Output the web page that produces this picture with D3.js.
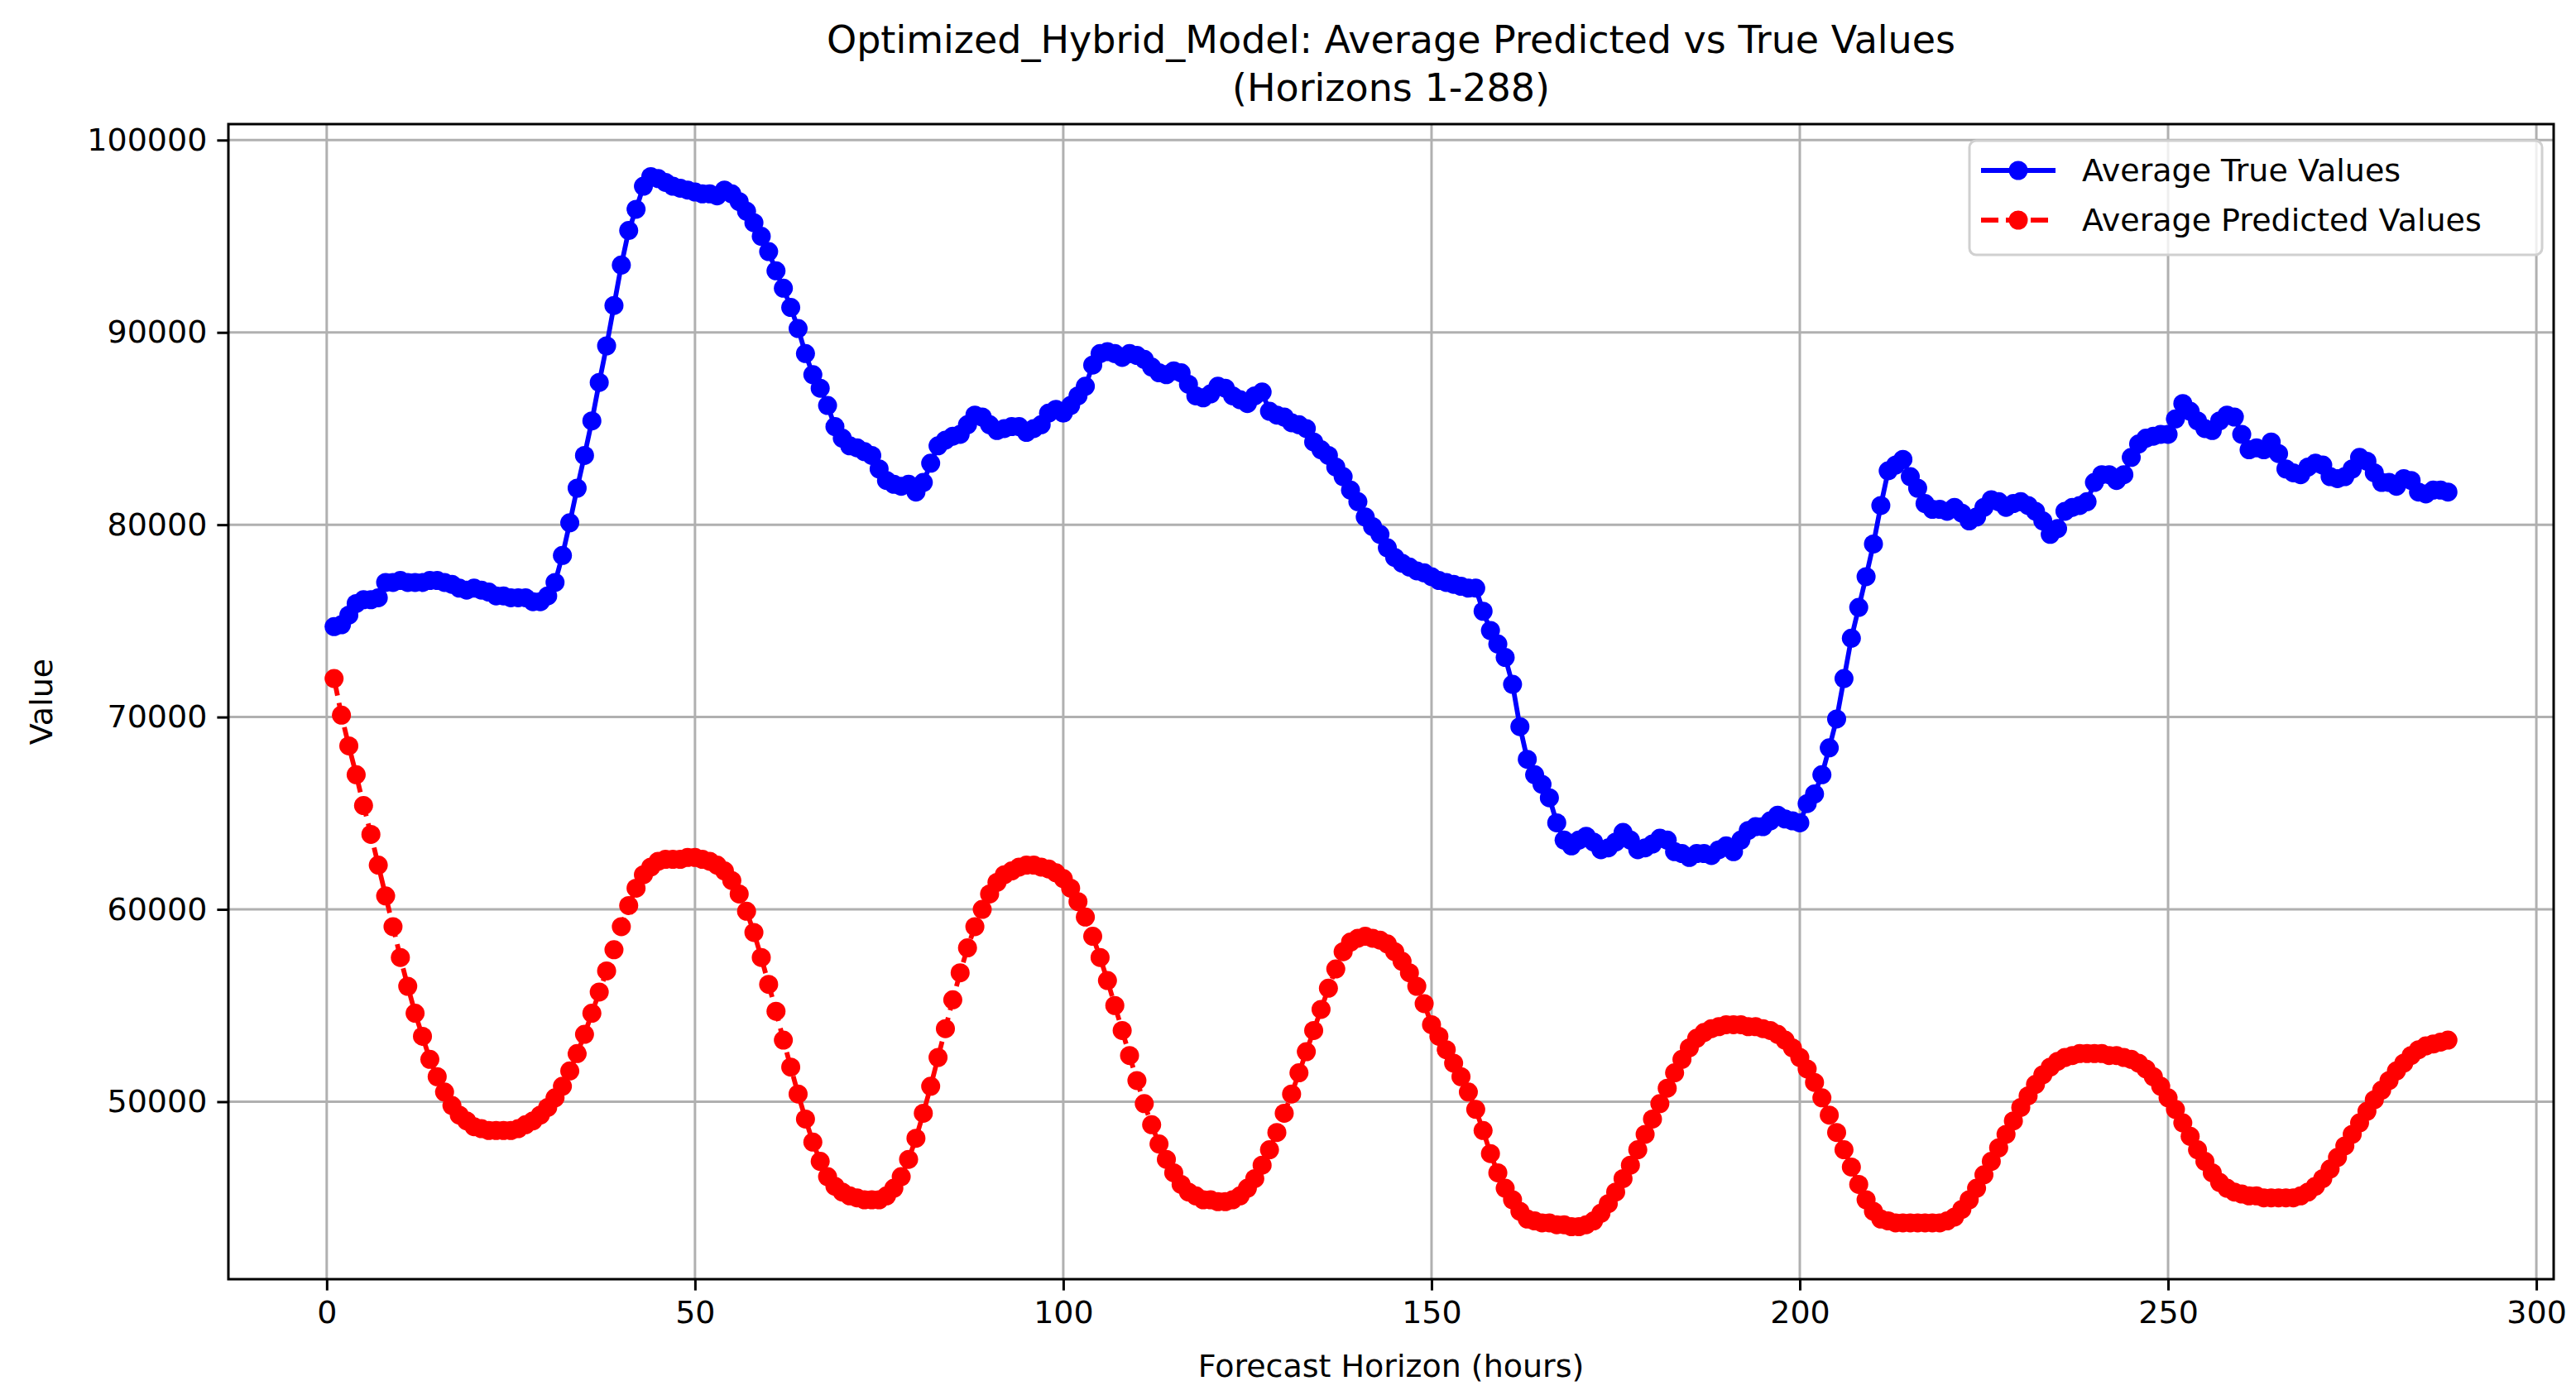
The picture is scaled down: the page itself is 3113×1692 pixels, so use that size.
<!DOCTYPE html>
<html>
<head>
<meta charset="utf-8">
<script src="https://cdnjs.cloudflare.com/ajax/libs/d3/7.8.5/d3.min.js"></script>
<style>
  html, body { margin: 0; padding: 0; background: #fff; }
  text { font-family: "DejaVu Sans", sans-serif; fill: #000; }
</style>
</head>
<body>
<svg id="chart" width="3113" height="1692"></svg>
<script>
// average true values, horizons 1..288
var trueValues = [
  74700,74800,75300,75900,76100,76100,76200,77000,77000,77100,77000,77000,
  77000,77100,77100,77000,76900,76700,76600,76700,76600,76500,76300,76300,
  76200,76200,76200,76000,76000,76300,77000,78400,80100,81900,83600,85400,
  87400,89300,91400,93500,95300,96400,97600,98100,98000,97800,97600,97500,
  97400,97300,97200,97200,97100,97400,97200,96800,96300,95700,95000,94200,
  93200,92300,91300,90200,88900,87800,87100,86200,85100,84500,84100,84000,
  83800,83600,82900,82300,82100,82000,82100,81700,82200,83200,84100,84400,
  84600,84700,85200,85700,85600,85200,84900,85000,85100,85100,84800,85000,
  85200,85800,86000,85800,86200,86700,87200,88300,88900,89000,88900,88700,
  88900,88800,88600,88200,87900,87800,88000,87900,87300,86700,86600,86800,
  87200,87100,86700,86500,86300,86700,86900,85900,85700,85600,85300,85200,
  85000,84300,83900,83600,83000,82500,81800,81200,80400,79900,79500,78800,
  78300,78000,77800,77600,77500,77300,77100,77000,76900,76800,76700,76700,
  75500,74500,73800,73100,71700,69500,67800,67000,66500,65800,64500,63600,
  63300,63600,63800,63500,63100,63200,63500,64000,63600,63100,63200,63400,
  63700,63600,63000,62900,62700,62900,62900,62800,63100,63300,63000,63600,
  64100,64300,64300,64600,64900,64700,64600,64500,65500,66000,67000,68400,
  69900,72000,74100,75700,77300,79000,81000,82800,83100,83400,82500,81900,
  81100,80800,80800,80700,80900,80600,80200,80400,80900,81300,81200,80900,
  81100,81200,81000,80700,80200,79500,79800,80700,80900,81000,81200,82200,
  82600,82600,82300,82600,83500,84200,84500,84600,84700,84700,85500,86300,
  85900,85400,85000,84900,85400,85700,85600,84700,83900,84000,83900,84300,
  83700,82900,82700,82600,83000,83200,83100,82500,82400,82500,82900,83500,
  83300,82700,82200,82200,82000,82400,82300,81700,81600,81800,81800,81700
];
// average predicted values, horizons 1..288
var predValues = [
  72000,70100,68500,67000,65400,63900,62300,60700,59100,57500,
  56000,54600,53400,52200,51300,50500,49800,49300,49000,48700,
  48600,48500,48500,48500,48500,48600,48800,49000,49300,49700,
  50200,50800,51600,52500,53500,54600,55700,56800,57900,59100,
  60200,61100,61800,62200,62500,62600,62600,62600,62700,62700,
  62600,62500,62300,62000,61500,60800,59900,58800,57500,56100,
  54700,53200,51800,50400,49100,47900,46900,46100,45600,45300,
  45100,45000,44900,44900,44900,45100,45500,46100,47000,48100,
  49400,50800,52300,53800,55300,56700,58000,59100,60000,60800,
  61400,61800,62000,62200,62300,62300,62200,62100,61900,61600,
  61100,60400,59600,58600,57500,56300,55000,53700,52400,51100,
  49900,48800,47800,47000,46300,45700,45300,45100,44900,44900,
  44800,44800,44900,45100,45500,46000,46700,47500,48400,49400,
  50400,51500,52600,53700,54800,55900,56900,57800,58300,58500,
  58600,58500,58400,58200,57800,57300,56700,56000,55100,54000,
  53400,52700,52000,51300,50500,49600,48500,47300,46300,45500,
  44900,44300,43900,43800,43700,43700,43600,43600,43500,43500,
  43600,43800,44200,44700,45300,46000,46700,47500,48300,49100,
  49900,50700,51500,52200,52800,53300,53600,53800,53900,54000,
  54000,54000,53900,53900,53800,53700,53500,53200,52800,52300,
  51700,51000,50200,49300,48400,47500,46600,45700,44900,44300,
  43900,43800,43700,43700,43700,43700,43700,43700,43700,43800,
  44000,44400,44900,45500,46200,46900,47600,48300,49000,49700,
  50300,50900,51400,51800,52100,52300,52400,52500,52500,52500,
  52500,52400,52400,52300,52200,52000,51700,51300,50800,50200,
  49600,48900,48200,47500,46900,46300,45800,45500,45300,45200,
  45100,45100,45000,45000,45000,45000,45000,45100,45300,45600,
  46000,46500,47100,47700,48300,48900,49500,50100,50600,51100,
  51600,52000,52400,52700,52900,53000,53100,53200
];
var horizons = trueValues.map(function(d, i) { return i + 1; });
var xTicks = [0, 50, 100, 150, 200, 250, 300];
var yTicks = [50000, 60000, 70000, 80000, 90000, 100000];
var seriesNames = ["Average True Values", "Average Predicted Values"];

var svg = d3.select("#chart");
var pL = 276, pR = 3086, pT = 150, pB = 1546;

// matplotlib-like 5% margins
var xr = d3.extent(horizons), xp = (xr[1] - xr[0]) * 0.05;
var allY = trueValues.concat(predValues);
var yr = d3.extent(allY), yp = (yr[1] - yr[0]) * 0.05;

var x = d3.scaleLinear().domain([xr[0] - xp, xr[1] + xp]).range([pL, pR]);
var y = d3.scaleLinear().domain([yr[0] - yp, yr[1] + yp]).range([pB, pT]);

// grid
var grid = svg.append("g");
grid.selectAll(".gx").data(xTicks).enter().append("line")
  .attr("x1", d => x(d)).attr("x2", d => x(d))
  .attr("y1", pT).attr("y2", pB)
  .attr("stroke", "#b0b0b0").attr("stroke-width", 3);
grid.selectAll(".gy").data(yTicks).enter().append("line")
  .attr("x1", pL).attr("x2", pR)
  .attr("y1", d => y(d)).attr("y2", d => y(d))
  .attr("stroke", "#b0b0b0").attr("stroke-width", 3);

function drawSeries(vals, color, dash) {
  var line = d3.line().x((d, i) => x(horizons[i])).y(d => y(d));
  svg.append("path").datum(vals)
    .attr("d", line).attr("fill", "none")
    .attr("stroke", color).attr("stroke-width", 5.8)
    .attr("stroke-dasharray", dash);
  svg.append("g").selectAll("circle").data(vals).enter().append("circle")
    .attr("cx", (d, i) => x(horizons[i])).attr("cy", d => y(d))
    .attr("r", 11.5).attr("fill", color);
}
drawSeries(trueValues, "#0000ff", null);
drawSeries(predValues, "#ff0000", "21,9");

// axes
var xAxis = svg.append("g").attr("transform", "translate(0," + pB + ")")
  .call(d3.axisBottom(x).tickValues(xTicks).tickSize(13.6).tickPadding(12));
var yAxis = svg.append("g").attr("transform", "translate(" + pL + ",0)")
  .call(d3.axisLeft(y).tickValues(yTicks).tickFormat(d3.format("d")).tickSize(13.6).tickPadding(12));
[xAxis, yAxis].forEach(function(a) {
  a.select(".domain").remove();
  a.selectAll("line").attr("stroke", "#000").attr("stroke-width", 3);
  a.selectAll("text").style("font-size", "38px").style("font-family", "DejaVu Sans");
});
svg.append("rect").attr("x", pL).attr("y", pT)
  .attr("width", pR - pL).attr("height", pB - pT)
  .attr("fill", "none").attr("stroke", "#000").attr("stroke-width", 3);

// titles
svg.append("text").attr("x", (pL + pR) / 2).attr("y", 64)
  .attr("text-anchor", "middle").style("font-size", "46px")
  .text("Optimized_Hybrid_Model: Average Predicted vs True Values");
svg.append("text").attr("x", (pL + pR) / 2).attr("y", 122)
  .attr("text-anchor", "middle").style("font-size", "46px")
  .text("(Horizons 1-288)");
svg.append("text").attr("x", (pL + pR) / 2).attr("y", 1664)
  .attr("text-anchor", "middle").style("font-size", "38px")
  .text("Forecast Horizon (hours)");
svg.append("text").attr("transform", "translate(50," + ((pT + pB) / 2) + ") rotate(-90)")
  .attr("text-anchor", "middle").attr("dy", "0.35em").style("font-size", "38px")
  .text("Value");

// legend
var lg = svg.append("g");
lg.append("rect").attr("x", 2380).attr("y", 170).attr("width", 692).attr("height", 138)
  .attr("rx", 8).attr("fill", "#fff").attr("fill-opacity", 0.8)
  .attr("stroke", "#d0d0d0").attr("stroke-width", 3);
var lgColors = ["#0000ff", "#ff0000"], lgDash = [null, "21,9"];
seriesNames.forEach(function(name, i) {
  var cy = 206 + i * 60;
  lg.append("line").attr("x1", 2394).attr("x2", 2484).attr("y1", cy).attr("y2", cy)
    .attr("stroke", lgColors[i]).attr("stroke-width", 5.8).attr("stroke-dasharray", lgDash[i]);
  lg.append("circle").attr("cx", 2439).attr("cy", cy).attr("r", 11.5).attr("fill", lgColors[i]);
  lg.append("text").attr("x", 2516).attr("y", cy).attr("dy", "0.35em")
    .style("font-size", "38px").text(name);
});
</script>
</body>
</html>
